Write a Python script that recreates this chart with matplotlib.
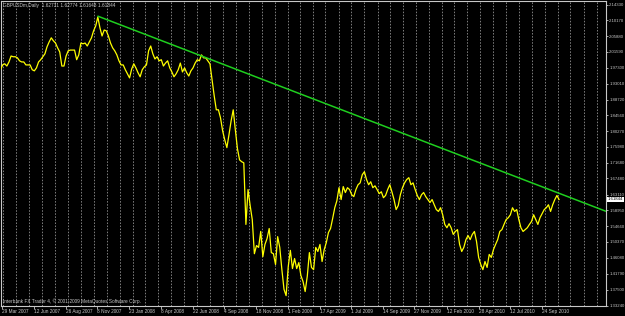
import matplotlib
matplotlib.use("Agg")
import matplotlib.pyplot as plt
import matplotlib.transforms as mtransforms
import pandas as pd

# ---------------- data ----------------
start_date = "2007-03-25"
step_days = 5
prices = [
    1.968, 1.981, 1.984, 1.978, 1.989, 2.005, 2.003, 2.003, 2.000, 1.992,
    1.989, 1.989, 1.981, 1.981, 1.981, 1.968, 1.965, 1.973, 1.989, 1.995,
    2.003, 2.011, 2.030, 2.043, 2.054, 2.046, 2.040, 2.027, 2.016, 1.978,
    1.978, 2.005, 2.019, 2.021, 2.021, 2.021, 1.995, 2.008, 2.040, 2.038,
    2.040, 2.032, 2.043, 2.054, 2.073, 2.086, 2.110, 2.081, 2.059, 2.075,
    2.073, 2.059, 2.040, 2.027, 2.019, 2.008, 1.992, 1.981, 1.981, 1.968,
    1.957, 1.946, 1.970, 1.984, 1.973, 1.960, 1.949, 1.968, 1.976, 1.981,
    2.019, 2.032, 2.011, 1.997, 2.003, 1.992, 1.995, 1.978, 1.986, 1.992,
    1.973, 1.962, 1.949, 1.957, 1.968, 1.986, 1.962, 1.973, 1.960, 1.951,
    1.965, 1.973, 1.986, 1.995, 1.992, 2.008, 2.000, 2.000, 1.992, 1.984,
    1.941, 1.898, 1.860, 1.860, 1.838, 1.803, 1.779, 1.758, 1.793, 1.830,
    1.860, 1.806, 1.755, 1.725, 1.720, 1.717, 1.551, 1.645, 1.602, 1.564,
    1.472, 1.494, 1.489, 1.532, 1.464, 1.497, 1.513, 1.540, 1.475, 1.472,
    1.443, 1.518, 1.489, 1.429, 1.376, 1.359, 1.437, 1.481, 1.432, 1.459,
    1.432, 1.448, 1.413, 1.397, 1.370, 1.411, 1.475, 1.435, 1.429, 1.489,
    1.478, 1.497, 1.451, 1.483, 1.502, 1.529, 1.540, 1.567, 1.596, 1.615,
    1.650, 1.618, 1.653, 1.637, 1.650, 1.645, 1.631, 1.626, 1.645, 1.658,
    1.663, 1.685, 1.693, 1.672, 1.658, 1.666, 1.650, 1.655, 1.645, 1.634,
    1.639, 1.623, 1.629, 1.645, 1.658, 1.639, 1.618, 1.591, 1.602, 1.631,
    1.650, 1.663, 1.672, 1.677, 1.658, 1.663, 1.645, 1.629, 1.618, 1.631,
    1.637, 1.626, 1.618, 1.610, 1.618, 1.604, 1.591, 1.586, 1.596, 1.577,
    1.551, 1.542, 1.553, 1.542, 1.524, 1.532, 1.537, 1.497, 1.478, 1.489,
    1.510, 1.521, 1.510, 1.524, 1.532, 1.505, 1.462, 1.443, 1.429, 1.451,
    1.435, 1.470, 1.462, 1.483, 1.497, 1.510, 1.532, 1.537, 1.551, 1.564,
    1.569, 1.577, 1.596, 1.586, 1.591, 1.564, 1.542, 1.532, 1.537, 1.542,
    1.551, 1.559, 1.577, 1.564, 1.551, 1.569, 1.580, 1.591, 1.596, 1.604,
    1.586, 1.604, 1.618, 1.629, 1.618,
]
dates = pd.date_range(start_date, periods=len(prices), freq=f"{step_days}D")

trend_dates = pd.to_datetime(["2007-11-09", "2011-02-23"])
trend_prices = [2.1129, 1.5863]

ytick_values = [2.14330, 2.10170, 2.05880, 2.01590, 1.97300, 1.93010, 1.88720,
                1.84560, 1.80270, 1.75980, 1.71680, 1.67480, 1.63110, 1.58950,
                1.54660, 1.50370, 1.46080, 1.41790, 1.37500, 1.33240]
ytick_labels = [f"{v:.5f}" for v in ytick_values]

xtick_dates = ["2007-03-29", "2007-06-12", "2007-08-26", "2007-11-08", "2008-01-23",
               "2008-04-08", "2008-06-22", "2008-09-04", "2008-11-18", "2009-02-01",
               "2009-04-17", "2009-07-01", "2009-09-14", "2009-11-27", "2010-02-12",
               "2010-04-28", "2010-07-12", "2010-09-24"]
xtick_labels = ["29 Mar 2007", "12 Jun 2007", "26 Aug 2007", "8 Nov 2007", "23 Jan 2008",
                "8 Apr 2008", "22 Jun 2008", "4 Sep 2008", "18 Nov 2008", "1 Feb 2009",
                "17 Apr 2009", "1 Jul 2009", "14 Sep 2009", "27 Nov 2009", "12 Feb 2010",
                "28 Apr 2010", "12 Jul 2010", "24 Sep 2010"]

header = "GBPUSDm,Daily  1.62731 1.62774 1.61648 1.61844"
footer = "Interbank FX Trader 4, \u00a9 2001-2009 MetaQuotes Software Corp."
last_price = 1.61844

# ---------------- figure ----------------
W, H = 625, 316
fig = plt.figure(figsize=(W / 100, H / 100), dpi=100)
fig.patch.set_facecolor("black")
ax = fig.add_axes([0.5 / W, 1 - 305.5 / H, 605.5 / W, 304.5 / H])
ax.set_facecolor("black")

fg = "#c8c8c8"
font = "Liberation Sans"
fs = 3.4
fs_y = 3.1

ax.set_xlim(pd.Timestamp("2007-03-25"), pd.Timestamp("2011-02-23"))
ax.set_ylim(1.3330, 2.1533)

# vertical month grid
for m in pd.date_range("2007-04-01", "2011-02-01", freq="MS"):
    ax.axvline(m, color="#a0a0a0", lw=0.55, ls=(0, (2, 2)), zorder=1)

ax.plot(dates, prices, color="#ffff00", lw=0.9, zorder=3)
ax.plot(trend_dates, trend_prices, color="#1fcf1f", lw=1.1, zorder=4,
        solid_capstyle="butt")

for s in ax.spines.values():
    s.set_color(fg)
    s.set_linewidth(0.8)

# y ticks on right
ax.yaxis.tick_right()
ax.set_yticks(ytick_values)
ax.set_yticklabels(ytick_labels, fontsize=fs_y, color=fg, family=font)
ax.tick_params(axis="y", direction="out", length=1.5, width=0.6, color=fg, pad=0.8)

# x ticks
xt = pd.to_datetime(xtick_dates)
ax.set_xticks(xt)
ax.set_xticklabels([])
ax.tick_params(axis="x", direction="out", length=2, width=0.6, color=fg)
trans = mtransforms.blended_transform_factory(ax.transData, fig.transFigure)
for d, lab in zip(xt, xtick_labels):
    ax.text(d, 1 - 311.5 / H, lab, transform=trans, fontsize=fs, color=fg,
            family=font, ha="left", va="center", clip_on=False)

# header / footer
fig.text(3 / W, 1 - 5.5 / H, header, fontsize=fs, color=fg, family=font,
         ha="left", va="center")
fig.text(3 / W, 1 - 301 / H, footer, fontsize=fs, color=fg, family=font,
         ha="left", va="center")

# current price box
trans_y = mtransforms.blended_transform_factory(fig.transFigure, ax.transData)
ax.text(607.5 / W, last_price, f"{last_price:.5f}", transform=trans_y,
        fontsize=fs_y, color="black", family=font, ha="left", va="center",
        bbox=dict(boxstyle="square,pad=0.15", fc="white", ec="white", lw=0),
        clip_on=False, zorder=10)

fig.savefig("out.png", dpi=100, facecolor="black")
